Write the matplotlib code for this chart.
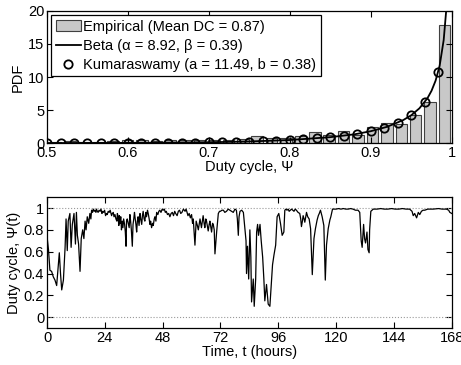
import matplotlib
matplotlib.use("Agg")
import matplotlib.pyplot as plt

plt.rcParams["font.family"] = ["Liberation Sans", "DejaVu Sans"]
plt.rcParams["font.size"] = 10.5

# empirical histogram (bin centres / PDF heights)
bin_centers = [0.5104, 0.5282, 0.5460, 0.5638, 0.5816, 0.5994, 0.6172, 0.6350,
               0.6528, 0.6706, 0.6884, 0.7062, 0.7240, 0.7418, 0.7596, 0.7774,
               0.7952, 0.8130, 0.8308, 0.8486, 0.8664, 0.8842, 0.9020, 0.9198,
               0.9376, 0.9554, 0.9732, 0.9910]
emp_pdf = [0.2, 0.3, 0.15, 0.2, 0.25, 0.45, 0.4, 0.3,
           0.45, 0.5, 0.4, 0.5, 0.45, 0.6, 1.0, 0.7,
           0.8, 1.1, 1.7, 1.2, 1.9, 1.2, 2.5, 3.1,
           2.9, 4.2, 6.2, 17.9]
bin_width = 0.0178

# fitted beta curve
beta_x = [0.5, 0.55, 0.6, 0.65, 0.7, 0.75, 0.8, 0.85, 0.88, 0.9, 0.92, 0.94,
          0.95, 0.96, 0.97, 0.975, 0.98, 0.985, 0.99, 0.993]
beta_pdf = [0.006, 0.014, 0.031, 0.064, 0.126, 0.243, 0.465, 0.896, 1.33, 1.80,
            2.46, 3.48, 4.22, 5.26, 6.80, 7.92, 9.45, 11.7, 15.6, 19.9]

# Kumaraswamy fit markers
kuma_x = [0.5000, 0.5167, 0.5333, 0.5500, 0.5667, 0.5833, 0.6000, 0.6167,
          0.6333, 0.6500, 0.6667, 0.6833, 0.7000, 0.7167, 0.7333, 0.7500,
          0.7667, 0.7833, 0.8000, 0.8167, 0.8333, 0.8500, 0.8667, 0.8833,
          0.9000, 0.9167, 0.9333, 0.9500, 0.9667, 0.9833]
kuma_pdf = [0.003, 0.004, 0.006, 0.008, 0.011, 0.015, 0.021, 0.027,
            0.036, 0.048, 0.062, 0.081, 0.105, 0.135, 0.172, 0.219,
            0.277, 0.350, 0.442, 0.556, 0.700, 0.881, 1.11, 1.41,
            1.80, 2.33, 3.08, 4.21, 6.17, 10.76]

# duty cycle time series
hours = [0.0, 0.6, 1.2, 1.9, 2.6, 3.3, 4.0, 4.6, 5.1, 5.6, 6.1, 6.8, 7.5, 7.9,
         8.4, 8.8, 9.5, 10.0, 10.5, 11.2, 11.8, 12.2, 12.6, 13.1, 13.7, 14.2,
         14.8, 15.3, 15.8, 16.2, 16.7, 17.3,
         17.8, 18.2, 18.5, 18.9, 19.2, 19.6, 19.9, 20.3, 20.5, 20.9, 21.2, 21.6,
         22.0, 22.4, 22.8, 23.1, 23.5, 23.9, 24.3, 24.7, 25.0, 25.4, 25.8, 26.2,
         26.8, 27.1, 27.5, 27.8, 28.2, 28.6, 29.0, 29.2, 29.5, 29.8, 30.0, 30.3,
         30.6, 30.9, 31.2, 31.5, 31.8, 32.2, 32.5, 32.8, 33.0, 33.3, 33.7, 34.1,
         34.4, 34.7, 35.0, 35.4, 35.7, 36.0, 36.3, 36.5, 36.9, 37.2, 37.5, 37.8,
         38.2, 38.6, 38.9, 39.3, 39.6, 39.9, 40.3, 40.6, 41.0, 41.3, 41.7, 42.0,
         42.4, 42.7, 43.0, 43.4, 43.8, 44.1, 44.5, 44.8, 45.2, 45.5, 46.0, 46.4,
         46.8, 47.3, 47.8, 48.2, 48.7, 49.1, 49.5, 50.0, 50.5, 51.0, 51.5, 52.0,
         52.5, 53.0, 53.4, 54.0, 54.5, 55.0, 55.5, 56.0, 56.6, 57.3, 57.7, 58.0,
         58.5, 59.0, 59.5, 60.0, 60.4, 60.7,
         61.4, 61.9, 62.4, 62.8, 63.2, 63.5, 64.1, 64.5, 64.8, 65.2, 65.5, 65.9,
         66.2, 66.6, 66.9, 67.3, 67.6, 68.0, 68.3, 68.7, 69.0, 69.4, 69.7, 70.1,
         70.4, 70.8, 71.1, 71.6, 72.0, 72.6, 73.2, 73.8, 74.5, 75.2, 75.9, 76.6,
         77.3, 78.0, 78.6, 79.0, 79.4, 79.7, 80.1, 80.8, 81.5, 82.2, 82.6, 82.8,
         83.2, 83.7, 84.2, 84.6, 84.9, 85.6, 86.0, 86.6, 87.0, 87.4, 87.8, 88.4,
         88.9, 89.5, 90.0, 90.4, 91.1, 91.8, 92.5, 93.6, 94.2, 94.9, 95.5, 96.2,
         96.9, 97.6, 98.3, 98.7, 99.2, 99.6, 100.1, 100.5, 101.0, 101.5, 102.0,
         102.5, 103.0, 103.5, 104.2, 104.9, 105.3, 105.6, 106.0, 106.3, 106.7,
         107.0, 107.4, 107.7, 108.2, 108.8, 109.4, 110.1, 110.8, 111.4, 112.1,
         112.6, 113.0, 113.5, 114.2, 114.9, 115.5, 116.0, 116.7, 117.4, 117.8,
         118.5, 119.3, 120.0, 121.0, 122.0, 123.0, 124.0, 125.0, 126.0, 127.0,
         128.0, 129.1, 129.8, 130.4, 130.8, 131.4, 131.8, 132.2, 132.8, 133.2,
         133.7, 133.9, 134.4, 135.4, 137.0, 138.5, 140.0, 141.5, 143.0, 144.5,
         146.0, 147.5, 149.0, 150.5, 151.5, 152.0, 152.6, 153.4, 153.8, 154.1,
         154.7, 155.4, 156.1, 156.8, 158.0, 160.3, 162.5, 164.0, 165.8, 166.7,
         167.2, 168.0]
duty = [0.74, 0.62, 0.43, 0.42, 0.37, 0.34, 0.29, 0.45, 0.59, 0.40, 0.25, 0.34,
        0.64, 0.90, 0.61, 0.88, 0.95, 0.64, 0.85, 0.95, 0.67, 0.96, 0.75, 0.67,
        0.42, 0.72, 0.80, 0.72, 0.88, 0.80, 0.92, 0.86,
        0.95, 0.90, 0.98, 0.96, 0.99, 0.97, 0.98, 0.96, 0.99, 0.97, 0.96, 0.98,
        0.97, 0.99, 0.95, 0.97, 0.96, 0.98, 0.93, 0.95, 0.94, 0.97, 0.96, 0.98,
        0.93, 0.95, 0.96, 0.92, 0.94, 0.90, 0.88, 0.95, 0.92, 0.84, 0.93, 0.86,
        0.92, 0.80, 0.88, 0.82, 0.90, 0.85, 0.78, 0.65, 0.88, 0.90, 0.86, 0.82,
        0.94, 0.88, 0.80, 0.65, 0.85, 0.90, 0.96, 0.92, 0.85, 0.78, 0.88, 0.92,
        0.84, 0.95, 0.90, 0.85, 0.93, 0.97, 0.90, 0.88, 0.96, 0.92, 0.98, 0.95,
        0.90, 0.85, 0.88, 0.82, 0.86, 0.84, 0.90, 0.92, 0.88, 0.96, 0.94, 0.97,
        0.98, 0.96, 0.99, 0.98, 0.99, 0.96, 0.97, 0.94, 0.95, 0.92, 0.95, 0.96,
        0.93, 0.97, 0.95, 0.93, 0.97, 0.98, 0.95, 0.96, 0.99, 0.97, 0.99, 0.97,
        0.93, 0.95, 0.91, 0.94, 0.86, 0.90,
        0.66, 0.88, 0.84, 0.80, 0.86, 0.90, 0.82, 0.88, 0.93, 0.86, 0.82, 0.90,
        0.88, 0.83, 0.79, 0.85, 0.88, 0.82, 0.78, 0.86, 0.85, 0.80, 0.58, 0.70,
        0.78, 0.88, 0.95, 0.97, 0.97, 0.98, 0.98, 0.96, 0.97, 0.99, 0.98, 0.97,
        0.96, 0.99, 0.98, 0.90, 0.75, 0.92, 0.97, 0.98, 0.96, 0.80, 0.70, 0.40,
        0.65, 0.35, 0.80, 0.55, 0.14, 0.35, 0.10, 0.35, 0.78, 0.85, 0.75, 0.85,
        0.70, 0.55, 0.35, 0.15, 0.30, 0.12, 0.10, 0.48, 0.57, 0.66, 0.92, 0.95,
        0.86, 0.75, 0.78, 0.98, 0.99, 0.98, 0.99, 0.97, 0.98, 0.99, 0.98,
        0.97, 0.99, 0.98, 0.96, 0.95, 0.90, 0.83, 0.88, 0.93, 0.90,
        0.87, 0.92, 0.96, 0.92, 0.90, 0.81, 0.39, 0.72, 0.81, 0.89,
        0.93, 0.95, 0.98, 0.92, 0.84, 0.34, 0.66, 0.81, 0.89, 0.92,
        0.99, 0.99, 0.99, 0.995, 0.99, 0.995, 0.99, 0.99, 0.995, 0.99,
        0.98, 0.98, 0.96, 0.70, 0.64, 0.85, 0.72, 0.68, 0.78, 0.62,
        0.59, 0.80, 0.97, 0.99, 0.99, 0.995, 0.99, 0.99, 0.995, 0.99,
        0.99, 0.995, 0.99, 0.99, 0.97, 0.93, 0.95, 0.91, 0.94, 0.96,
        0.94, 0.97, 0.98, 0.98, 0.99, 0.99, 0.995, 0.99, 0.99, 0.98,
        0.96, 0.95]


def matlab_axes(ax):
    ax.tick_params(direction="in", top=True, right=True, length=4, width=0.8,
                   labelsize=10.5, pad=2)
    for s in ax.spines.values():
        s.set_linewidth(0.9)


fig = plt.figure(figsize=(4.61, 3.65), dpi=100)

ax1 = fig.add_axes([0.102, 0.608, 0.878, 0.362])
bars = ax1.bar(bin_centers, emp_pdf, width=bin_width * 0.8, color="#c8c8c8",
               edgecolor="#404040", linewidth=0.8)
beta_line, = ax1.plot(beta_x, beta_pdf, color="black", linewidth=1.3)
kuma_pts, = ax1.plot(kuma_x, kuma_pdf, linestyle="none", marker="o",
                     markersize=6, markerfacecolor="none",
                     markeredgecolor="black", markeredgewidth=1.3)
ax1.set_xlim(0.5, 1)
ax1.set_ylim(0, 20)
ax1.set_xticks([0.5, 0.6, 0.7, 0.8, 0.9, 1])
ax1.set_xticklabels(["0.5", "0.6", "0.7", "0.8", "0.9", "1"])
ax1.set_yticks([0, 5, 10, 15, 20])
ax1.set_xlabel("Duty cycle, \u03a8", labelpad=0)
ax1.set_ylabel("PDF", labelpad=2)
matlab_axes(ax1)
leg = ax1.legend([bars, beta_line, kuma_pts],
                 ["Empirical (Mean DC = 0.87)",
                  "Beta (\u03b1 = 8.92, \u03b2 = 0.39)",
                  "Kumaraswamy (a = 11.49, b = 0.38)"],
                 loc="upper left", fancybox=False, edgecolor="black",
                 framealpha=1, fontsize=10.5, borderpad=0.3, labelspacing=0.35,
                 handlelength=1.7, handletextpad=0.2, borderaxespad=0.3)
leg.get_frame().set_linewidth(0.9)

ax2 = fig.add_axes([0.102, 0.101, 0.878, 0.359])
ax2.axhline(0, color="#999999", linestyle=":", linewidth=0.8)
ax2.axhline(1, color="#999999", linestyle=":", linewidth=0.8)
ax2.plot(hours, duty, color="black", linewidth=0.9)
ax2.set_xlim(0, 168)
ax2.set_ylim(-0.1, 1.1)
ax2.set_xticks(range(0, 169, 24))
ax2.set_yticks([0, 0.2, 0.4, 0.6, 0.8, 1])
ax2.set_yticklabels(["0", "0.2", "0.4", "0.6", "0.8", "1"])
ax2.set_xlabel("Time, t (hours)", labelpad=0)
ax2.set_ylabel("Duty cycle, \u03a8(t)", labelpad=2)
matlab_axes(ax2)

fig.savefig("out.png", dpi=100)
